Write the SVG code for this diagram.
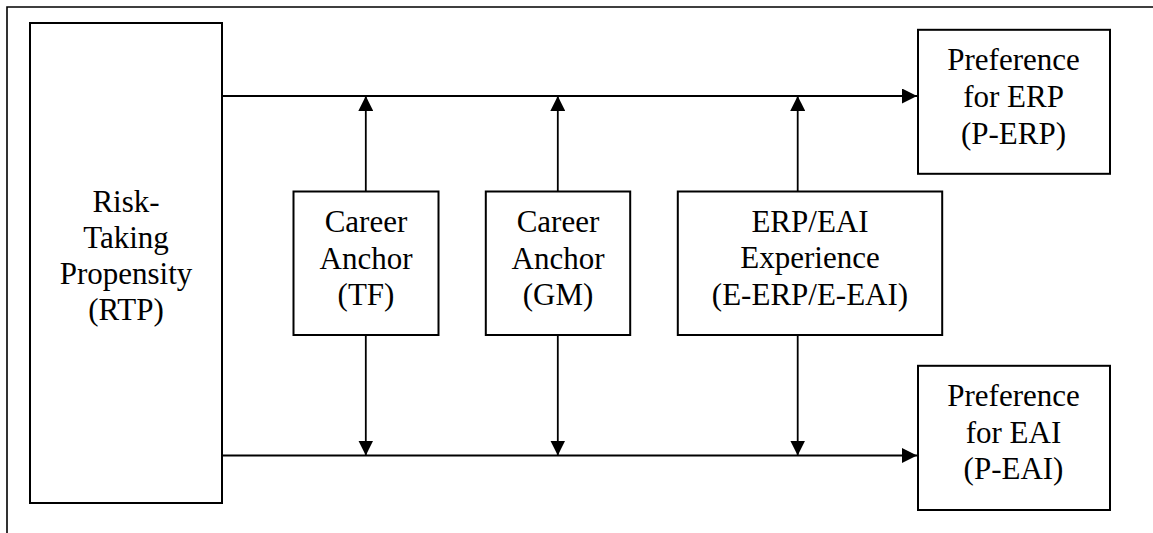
<svg xmlns="http://www.w3.org/2000/svg" width="1153" height="533" viewBox="0 0 1153 533">
<style>
.box{fill:#fff;stroke:#000;stroke-width:2}
.ln{stroke:#000;stroke-width:1.8;fill:none}
.frame{stroke:#000;stroke-width:1.6;fill:none}
.t{font-family:'Liberation Serif','DejaVu Serif',serif;font-size:31px;fill:#000;text-anchor:middle}
</style>
<defs>
<marker id="ah" markerUnits="userSpaceOnUse" markerWidth="15" markerHeight="15" viewBox="0 0 15 15" refX="15" refY="7.5" orient="auto">
<path d="M0,0 L15,7.5 L0,15 z" fill="#000"/>
</marker>
</defs>
<path class="frame" d="M7,533 L7,7 L1153,7"/>
<g id="connectors">
<line class="ln" x1="222" y1="96" x2="917" y2="96" marker-end="url(#ah)"/>
<line class="ln" x1="222" y1="455.5" x2="917" y2="455.5" marker-end="url(#ah)"/>
<line class="ln" x1="365.8" y1="191.5" x2="365.8" y2="96" marker-end="url(#ah)"/>
<line class="ln" x1="365.8" y1="335" x2="365.8" y2="455.5" marker-end="url(#ah)"/>
<line class="ln" x1="557.8" y1="191.5" x2="557.8" y2="96" marker-end="url(#ah)"/>
<line class="ln" x1="557.8" y1="335" x2="557.8" y2="455.5" marker-end="url(#ah)"/>
<line class="ln" x1="797.7" y1="191.5" x2="797.7" y2="96" marker-end="url(#ah)"/>
<line class="ln" x1="797.7" y1="335" x2="797.7" y2="455.5" marker-end="url(#ah)"/>
</g>
<g id="rtp" class="t" font-family="Liberation Serif, serif">
<rect class="box" x="30" y="23" width="192" height="480"/>
<text x="126" y="212">Risk-</text>
<text x="126" y="248">Taking</text>
<text x="126" y="284">Propensity</text>
<text x="126" y="320">(RTP)</text>
</g>
<g id="tf" class="t" font-family="Liberation Serif, serif">
<rect class="box" x="293.5" y="191.5" width="145" height="143.5"/>
<text x="366" y="232">Career</text>
<text x="366" y="268.5">Anchor</text>
<text x="366" y="305">(TF)</text>
</g>
<g id="gm" class="t" font-family="Liberation Serif, serif">
<rect class="box" x="485.8" y="191.5" width="144.4" height="143.5"/>
<text x="558" y="232">Career</text>
<text x="558" y="268.5">Anchor</text>
<text x="558" y="305">(GM)</text>
</g>
<g id="exp" class="t" font-family="Liberation Serif, serif">
<rect class="box" x="677.8" y="191.5" width="264.4" height="143.5"/>
<text x="810" y="231.5">ERP/EAI</text>
<text x="810" y="268">Experience</text>
<text x="810" y="304.5">(E-ERP/E-EAI)</text>
</g>
<g id="perp" class="t" font-family="Liberation Serif, serif">
<rect class="box" x="918" y="29.8" width="192" height="144"/>
<text x="1013.5" y="69.5">Preference</text>
<text x="1013.5" y="107">for ERP</text>
<text x="1013.5" y="144">(P-ERP)</text>
</g>
<g id="peai" class="t" font-family="Liberation Serif, serif">
<rect class="box" x="918" y="365.8" width="192" height="144.2"/>
<text x="1013.5" y="406">Preference</text>
<text x="1013.5" y="442.5">for EAI</text>
<text x="1013.5" y="479">(P-EAI)</text>
</g>
</svg>
